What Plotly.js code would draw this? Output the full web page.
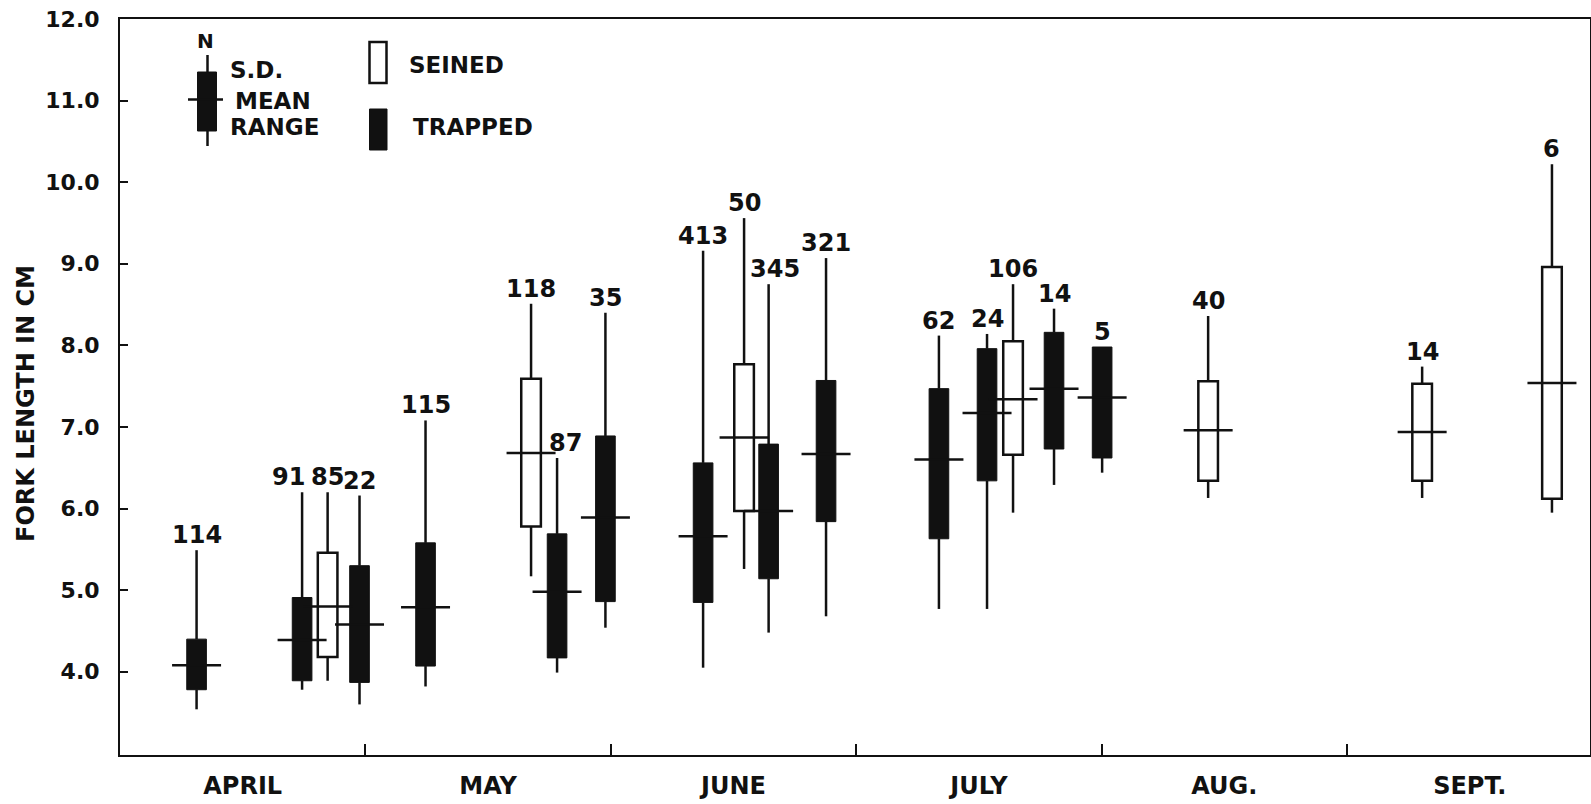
<!DOCTYPE html>
<html>
<head>
<meta charset="utf-8">
<script src="https://cdn.plot.ly/plotly-3.0.1.min.js"></script>
<style>
  html, body { margin: 0; padding: 0; background: #fff; }
  #chart { width: 1591px; height: 804px; }
</style>
</head>
<body>
<div id="chart"></div>
<script>
// ---- data ----
const monthLabels = ['APRIL', 'MAY', 'JUNE', 'JULY', 'AUG.', 'SEPT.'];
// sample position along the season, in months from 1 April (0 = start of April)
const samplePos = [0.312, 0.742, 0.846, 0.976, 1.245, 1.675, 1.781, 1.978, 2.376, 2.543,
                   2.643, 2.877, 3.337, 3.533, 3.639, 3.806, 4.002, 4.434, 5.306, 5.835];
const sampleN   = [114, 91, 85, 22, 115, 118, 87, 35, 413, 50,
                   345, 321, 62, 24, 106, 14, 5, 40, 14, 6];
// 'T' = trapped, 'S' = seined
const gear      = ['T', 'T', 'S', 'T', 'T', 'S', 'T', 'T', 'T', 'S',
                   'T', 'T', 'T', 'T', 'S', 'T', 'T', 'S', 'S', 'S'];
const meanLen   = [4.08, 4.39, 4.80, 4.58, 4.79, 6.68, 4.98, 5.89, 5.66, 6.87,
                   5.97, 6.67, 6.60, 7.17, 7.34, 7.47, 7.36, 6.96, 6.94, 7.54];
const sdLow     = [3.78, 3.89, 4.18, 3.87, 4.07, 5.78, 4.17, 4.86, 4.85, 5.97,
                   5.14, 5.84, 5.63, 6.34, 6.66, 6.73, 6.62, 6.34, 6.34, 6.12];
const sdHigh    = [4.40, 4.91, 5.46, 5.30, 5.58, 7.59, 5.69, 6.89, 6.56, 7.77,
                   6.79, 7.57, 7.47, 7.96, 8.05, 8.16, 7.98, 7.56, 7.53, 8.96];
const rangeLow  = [3.54, 3.78, 3.89, 3.60, 3.82, 5.17, 3.99, 4.54, 4.05, 5.26,
                   4.48, 4.68, 4.77, 4.77, 5.95, 6.29, 6.44, 6.13, 6.13, 5.95];
const rangeHigh = [5.49, 6.20, 6.20, 6.16, 7.08, 8.51, 6.62, 8.40, 9.16, 9.56,
                   8.75, 9.07, 8.12, 8.14, 8.75, 8.45, 7.98, 8.36, 7.74, 10.22];
const yTickVals = [4, 5, 6, 7, 8, 9, 10, 11, 12];
const yTickText = ['4.0', '5.0', '6.0', '7.0', '8.0', '9.0', '10.0', '11.0', '12.0'];

// ---- styling ----
const FONT = 'DejaVu Sans, Liberation Sans, sans-serif';
const BLACK = '#111';
const BOXW = 0.08;
// horizontal pixel nudges of a few crowded N labels (by sample index), as placed in the figure
const labelNudge = { 1: -14, 6: 8, 10: 6 };

// whiskers: upper (S.D. top -> max) and lower (min -> S.D. bottom) segments
const wx = [], wy = [];
samplePos.forEach((p, i) => {
  wx.push(p, p, null, p, p, null);
  wy.push(sdHigh[i], rangeHigh[i], null, rangeLow[i], sdLow[i], null);
});

function pick(arr, g) { return arr.filter((_, i) => gear[i] === g); }
function spans(g) { return sdHigh.map((h, i) => h - sdLow[i]).filter((_, i) => gear[i] === g); }

const traces = [
  { type: 'scatter', mode: 'lines', x: wx, y: wy,
    line: { color: BLACK, width: 2.5 }, hoverinfo: 'skip', connectgaps: false },
  { type: 'bar', name: 'TRAPPED', x: pick(samplePos, 'T'), base: pick(sdLow, 'T'), y: spans('T'),
    width: BOXW, marker: { color: BLACK, line: { color: BLACK, width: 1 } } },
  { type: 'bar', name: 'SEINED', x: pick(samplePos, 'S'), base: pick(sdLow, 'S'), y: spans('S'),
    width: BOXW, marker: { color: '#fff', line: { color: BLACK, width: 2.5 } } },
  { type: 'scatter', mode: 'markers', x: samplePos, y: meanLen,
    marker: { symbol: 'line-ew', size: 35, color: BLACK, line: { color: BLACK, width: 2.5 } },
    hoverinfo: 'skip' }
];

// sample-size labels above each range line
const annotations = samplePos.map((p, i) => ({
  x: p, y: rangeHigh[i], xref: 'x', yref: 'y', text: String(sampleN[i]),
  showarrow: false, yanchor: 'middle', xanchor: 'center', yshift: 15,
  xshift: labelNudge[i] || 0,
  font: { family: FONT, size: 24, color: BLACK, weight: 'bold' }
}));

// ---- key (legend) drawn in paper coordinates, from pixel positions ----
const PL = 120, PR = 1590, PT = 19, PB = 755;
const px = v => (v - PL) / (PR - PL);
const py = v => (PB - v) / (PB - PT);
const keyFont = { family: FONT, size: 23, color: BLACK, weight: 'bold' };
const shapes = [
  { type: 'line', xref: 'paper', yref: 'paper', x0: px(207.5), x1: px(207.5), y0: py(55), y1: py(146),
    line: { color: BLACK, width: 2.5 }, layer: 'above' },
  { type: 'rect', xref: 'paper', yref: 'paper', x0: px(197.5), x1: px(216.5), y0: py(72), y1: py(131),
    fillcolor: BLACK, line: { color: BLACK, width: 1 }, layer: 'above' },
  { type: 'line', xref: 'paper', yref: 'paper', x0: px(188), x1: px(223), y0: py(99.5), y1: py(99.5),
    line: { color: BLACK, width: 2.5 }, layer: 'above' },
  { type: 'rect', xref: 'paper', yref: 'paper', x0: px(369.5), x1: px(386.5), y0: py(42), y1: py(83),
    fillcolor: '#fff', line: { color: BLACK, width: 2.5 }, layer: 'above' },
  { type: 'rect', xref: 'paper', yref: 'paper', x0: px(369.5), x1: px(387), y0: py(109), y1: py(150),
    fillcolor: BLACK, line: { color: BLACK, width: 1 }, layer: 'above' }
];
const keyText = [
  ['N', 205, 41, 'center', 20],
  ['S.D.', 228, 70, 'left', 23],
  ['MEAN', 233, 101, 'left', 23],
  ['RANGE', 228, 127, 'left', 23],
  ['SEINED', 407, 65, 'left', 23],
  ['TRAPPED', 411, 127, 'left', 23]
];
keyText.forEach(([t, x, y, anc, sz]) => annotations.push({
  text: t, x: px(x), y: py(y), xref: 'paper', yref: 'paper', showarrow: false,
  xanchor: anc, yanchor: 'middle', font: Object.assign({}, keyFont, { size: sz })
}));
// y axis title
annotations.push({
  text: 'FORK LENGTH IN CM', x: px(26), y: py(404), xref: 'paper', yref: 'paper',
  showarrow: false, textangle: -90, xanchor: 'center', yanchor: 'middle',
  font: { family: FONT, size: 24, color: BLACK, weight: 'bold' }
});

const layout = {
  width: 1591, height: 804,
  margin: { l: PL, r: 1591 - PR, t: PT, b: 804 - PB, pad: 0 },
  paper_bgcolor: '#fff', plot_bgcolor: '#fff',
  showlegend: false, barmode: 'overlay', bargap: 0,
  xaxis: {
    range: [0, 5.99], showgrid: false, zeroline: false,
    showline: true, linecolor: BLACK, linewidth: 2, mirror: true,
    tickmode: 'array', tickvals: [0.5, 1.5, 2.5, 3.5, 4.5, 5.5], ticktext: monthLabels,
    ticks: '', ticklabelstandoff: 8,
    tickfont: { family: FONT, size: 24, color: BLACK, weight: 'bold' },
    minor: { tickmode: 'array', tickvals: [1, 2, 3, 4, 5], ticks: 'inside', ticklen: 11,
             tickwidth: 2, tickcolor: BLACK, showgrid: false }
  },
  yaxis: {
    range: [2.98, 12], showgrid: false, zeroline: false,
    showline: true, linecolor: BLACK, linewidth: 2, mirror: true,
    tickmode: 'array', tickvals: yTickVals, ticktext: yTickText,
    ticks: 'inside', ticklen: 8, tickwidth: 2, tickcolor: BLACK, ticklabelstandoff: 14,
    tickfont: { family: FONT, size: 22, color: BLACK, weight: 'bold' }
  },
  shapes: shapes,
  annotations: annotations
};

Plotly.newPlot('chart', traces, layout, { staticPlot: true, displayModeBar: false });
</script>
</body>
</html>
